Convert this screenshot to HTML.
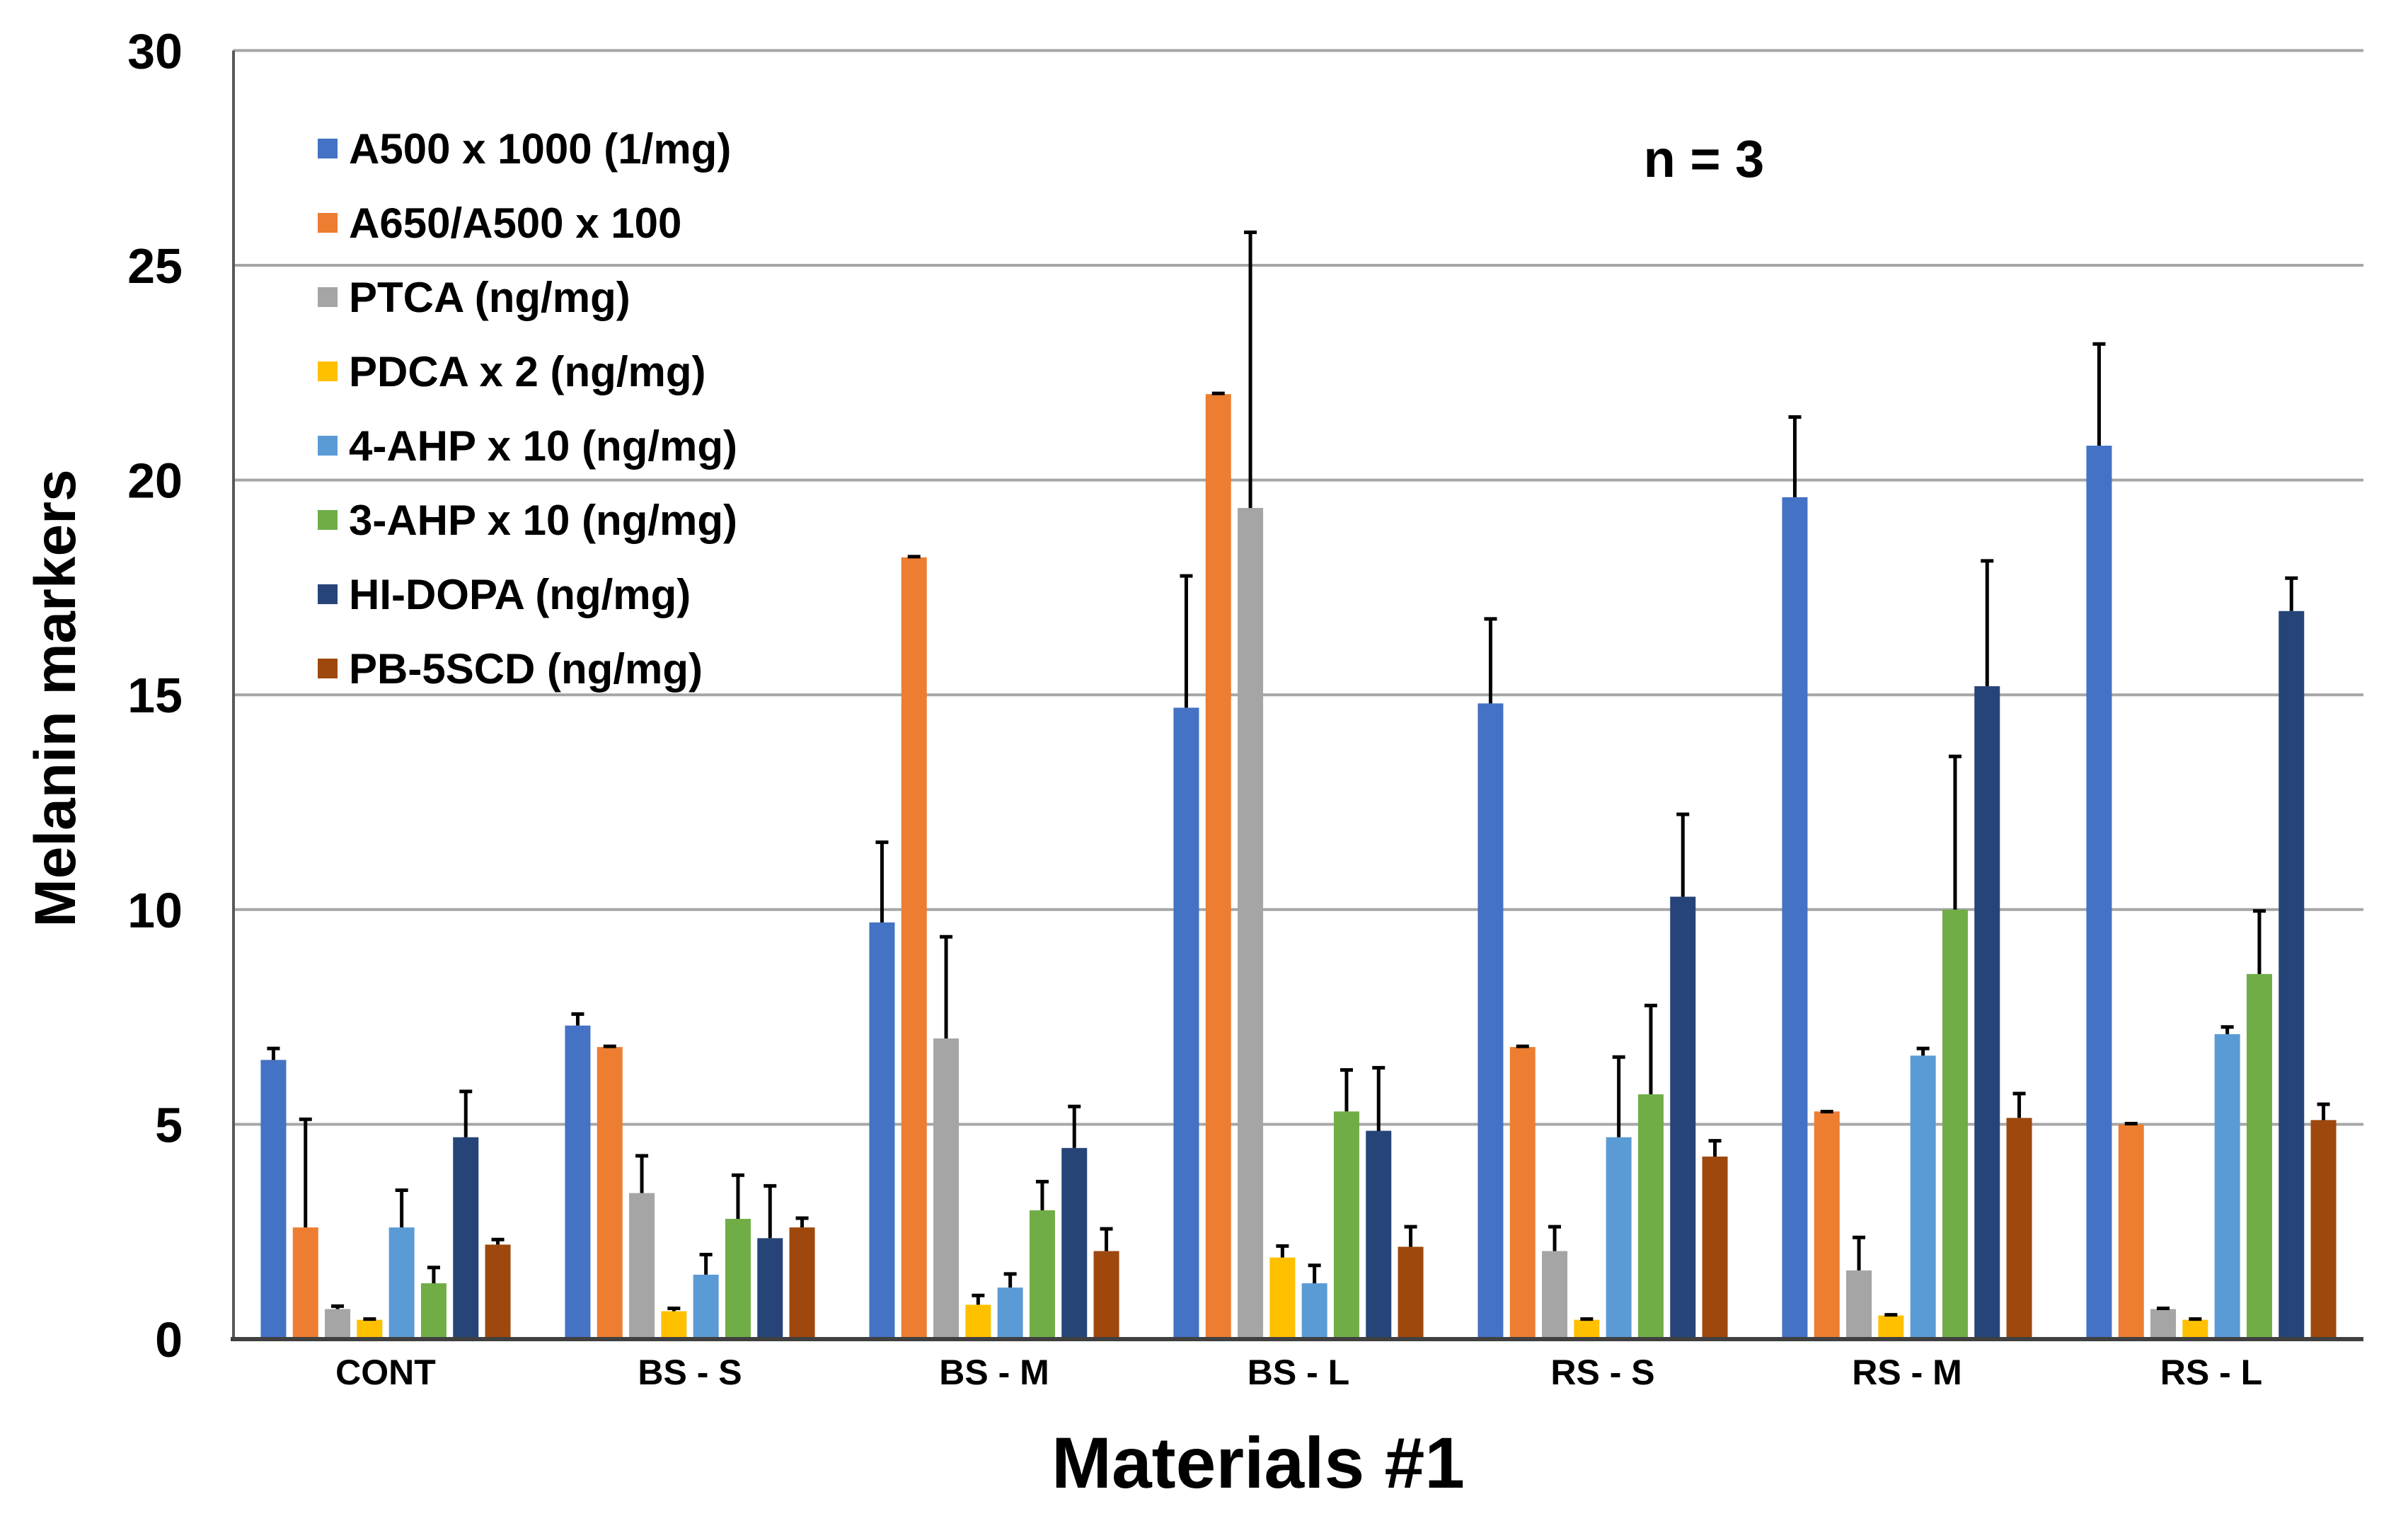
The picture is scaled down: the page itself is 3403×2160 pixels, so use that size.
<!DOCTYPE html>
<html><head><meta charset="utf-8"><style>
html,body{margin:0;padding:0;background:#fff}
svg{display:block}
text{font-family:"Liberation Sans",Arial,sans-serif;font-weight:bold;fill:#000}
</style></head><body>
<svg id="chart" width="3403" height="2160" viewBox="0 0 3403 2160" xmlns="http://www.w3.org/2000/svg">
<g id="grid"></g>
<g id="bars"></g>
<g id="axes"></g>
<g id="legend"></g>
<text x="2408" y="250" font-size="74" text-anchor="middle">n = 3</text>
<text x="1778" y="2103" font-size="102" text-anchor="middle">Materials #1</text>
<text transform="translate(106,987) rotate(-90)" font-size="82" text-anchor="middle">Melanin markers</text>
</svg>
<script>
const categories = ["CONT","BS - S","BS - M","BS - L","RS - S","RS - M","RS - L"];
const seriesNames = ["A500 x 1000 (1/mg)","A650/A500 x 100","PTCA  (ng/mg)","PDCA x 2 (ng/mg)","4-AHP x 10 (ng/mg)","3-AHP x 10 (ng/mg)","HI-DOPA (ng/mg)","PB-5SCD (ng/mg)"];
const colors = ["#4472c4","#ed7d31","#a5a5a5","#ffc000","#5b9bd5","#70ad47","#264478","#9e480e"];
const yTicks = [0,5,10,15,20,25,30];
const a500 = [6.5,7.3,9.7,14.7,14.8,19.6,20.8];
const a500Err = [0.3,0.3,1.9,3.1,2.0,1.9,2.4];
const a650 = [2.6,6.8,18.2,22.0,6.8,5.3,5.0];
const a650Err = [2.55,0.05,0.05,0.05,0.05,0.03,0.05];
const ptca = [0.7,3.4,7.0,19.35,2.05,1.6,0.7];
const ptcaErr = [0.1,0.9,2.4,6.45,0.6,0.8,0.05];
const pdca = [0.45,0.65,0.8,1.9,0.45,0.55,0.45];
const pdcaErr = [0.05,0.1,0.25,0.3,0.05,0.05,0.05];
const ahp4 = [2.6,1.5,1.2,1.3,4.7,6.6,7.1];
const ahp4Err = [0.9,0.5,0.35,0.45,1.9,0.2,0.2];
const ahp3 = [1.3,2.8,3.0,5.3,5.7,10.0,8.5];
const ahp3Err = [0.4,1.05,0.7,1.0,2.1,3.6,1.5];
const hidopa = [4.7,2.35,4.45,4.85,10.3,15.2,16.95];
const hidopaErr = [1.1,1.25,1.0,1.5,1.95,2.95,0.8];
const pb5scd = [2.2,2.6,2.05,2.15,4.25,5.15,5.1];
const pb5scdErr = [0.15,0.25,0.55,0.5,0.4,0.6,0.4];
const values = [a500,a650,ptca,pdca,ahp4,ahp3,hidopa,pb5scd];
const errors = [a500Err,a650Err,ptcaErr,pdcaErr,ahp4Err,ahp3Err,hidopaErr,pb5scdErr];

const NS="http://www.w3.org/2000/svg";
const L=330,R=3340,T=71.4,B=1893,YMAX=30;
const y=v=>B-(v/YMAX)*(B-T);
const groupW=(R-L)/categories.length;
const step=45.3,barW=36;
const x=(g,s)=>L+groupW*g+groupW/2-(seriesNames.length*step)/2+s*step+(step-barW)/2;
function mk(tag,attrs,parent){const e=document.createElementNS(NS,tag);for(const k in attrs)e.setAttribute(k,attrs[k]);parent.appendChild(e);return e;}
const grid=document.getElementById('grid'),bars=document.getElementById('bars'),axes=document.getElementById('axes'),legend=document.getElementById('legend');
yTicks.forEach(t=>{
  if(t>0){const ln=mk('line',{x1:L,x2:R,y1:y(t),y2:y(t),stroke:'#a6a6a6','stroke-width':4},grid);
  
  }
  const tx=mk('text',{x:258,y:y(t)+25,'font-size':70,'text-anchor':'end'},axes);tx.textContent=t;
  
  
});
categories.forEach((c,g)=>{
  values.forEach((arr,s)=>{
    const v=arr[g],bx=x(g,s);
    const r=mk('rect',{x:bx,y:y(v),width:barW,height:B-y(v),fill:colors[s]},bars);
    
    
    const top=y(v+errors[s][g]),cx=bx+barW/2;
    const e=mk('path',{d:`M${cx},${y(v)}V${top}M${cx-9},${top+2}H${cx+9}`,stroke:'#000','stroke-width':5,fill:'none'},bars);
    
    
  });
  const lt=mk('text',{x:L+groupW*g+groupW/2,y:B+64,'font-size':50,'text-anchor':'middle'},axes);lt.textContent=c;
  
  
});
const ya=mk('line',{x1:L,x2:L,y1:T,y2:B,stroke:'#595959','stroke-width':4},axes);


const xa=mk('line',{x1:L-4,x2:R,y1:B,y2:B,stroke:'#404040','stroke-width':6},axes);


seriesNames.forEach((n,i)=>{
  const cy=210+i*105;
  const sq=mk('rect',{x:449,y:cy-14,width:28,height:28,fill:colors[i]},legend);
  
  
  const t=mk('text',{x:493,y:cy+21,'font-size':60},legend);t.textContent=n;
  
  
});
</script>
</body></html>
